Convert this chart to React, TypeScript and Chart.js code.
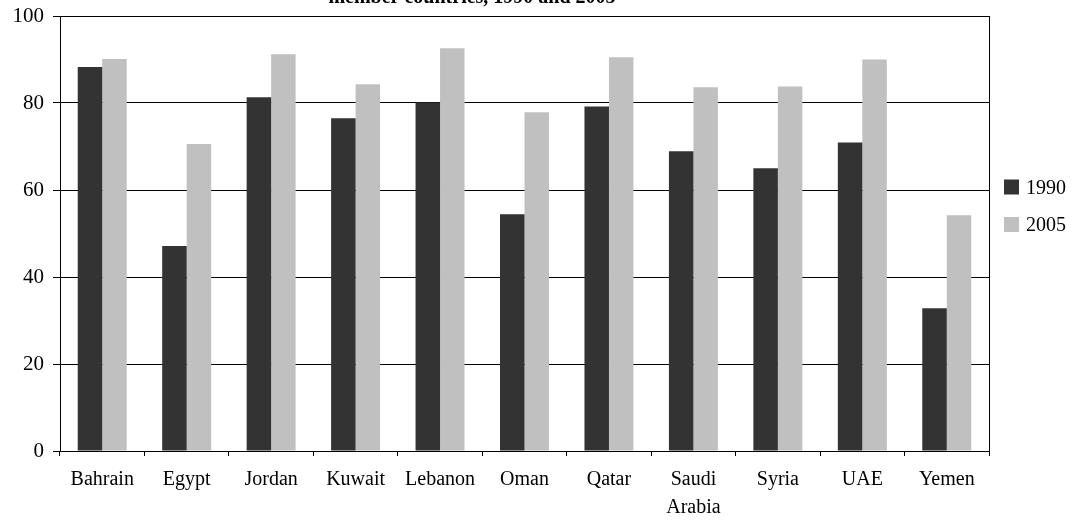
import { useEffect, useRef } from 'react';
import { Chart, registerables } from 'chart.js';

Chart.register(...registerables);

// Countries on the category axis (Saudi Arabia wraps onto two lines)
const countries: (string | string[])[] = [
  'Bahrain', 'Egypt', 'Jordan', 'Kuwait', 'Lebanon', 'Oman', 'Qatar',
  ['Saudi', 'Arabia'], 'Syria', 'UAE', 'Yemen',
];

// Series values per country
const values1990 = [88.3, 47.1, 81.3, 76.5, 80.1, 54.4, 79.2, 68.9, 65.0, 70.9, 32.8];
const values2005 = [90.1, 70.6, 91.2, 84.3, 92.6, 77.9, 90.5, 83.6, 83.8, 90.0, 54.2];

const seriesLabels = ['1990', '2005'];
const seriesColors = ['#333333', '#C0C0C0'];

const titleText = 'member countries, 1990 and 2005';

const yMin = 0;
const yMax = 100;
const yStep = 20;

const FONT = "'Liberation Serif', 'Times New Roman', serif";

// Draws the title line, the right edge of the plot frame and the legend
const decorations = {
  id: 'decorations',
  afterDraw(chart: Chart) {
    const { ctx, chartArea } = chart;
    ctx.save();

    // right edge of the plot frame
    ctx.strokeStyle = '#000';
    ctx.lineWidth = 1;
    ctx.beginPath();
    ctx.moveTo(Math.round(chartArea.right) + 0.5, chartArea.top);
    ctx.lineTo(Math.round(chartArea.right) + 0.5, chartArea.bottom);
    ctx.stroke();

    // title (its first line sits above the canvas edge)
    ctx.fillStyle = '#000';
    ctx.font = `bold 20px ${FONT}`;
    ctx.textAlign = 'center';
    ctx.textBaseline = 'alphabetic';
    ctx.fillText(titleText, 472, 3);

    // legend
    ctx.font = `20px ${FONT}`;
    ctx.textAlign = 'left';
    const lx = 1004;
    const ly = [179.5, 217];
    seriesLabels.forEach((label, i) => {
      ctx.fillStyle = seriesColors[i];
      ctx.fillRect(lx, ly[i], 15, 15);
      ctx.fillStyle = '#000';
      ctx.fillText(label, lx + 22, ly[i] + 14);
    });

    ctx.restore();
  },
};

export default function App() {
  const canvasRef = useRef<HTMLCanvasElement | null>(null);

  useEffect(() => {
    const canvas = canvasRef.current;
    if (!canvas) return;

    const chart = new Chart(canvas, {
      type: 'bar',
      data: {
        labels: countries,
        datasets: [
          {
            label: seriesLabels[0],
            data: values1990,
            backgroundColor: seriesColors[0],
            borderWidth: 0,
            categoryPercentage: 0.58,
            barPercentage: 1,
          },
          {
            label: seriesLabels[1],
            data: values2005,
            backgroundColor: seriesColors[1],
            borderWidth: 0,
            categoryPercentage: 0.58,
            barPercentage: 1,
          },
        ],
      },
      options: {
        responsive: false,
        animation: false,
        devicePixelRatio: 1,
        layout: { padding: { left: 0, top: 16, right: 85, bottom: 0 } },
        plugins: {
          legend: { display: false },
          title: { display: false },
          tooltip: { enabled: false },
        },
        scales: {
          x: {
            afterFit(scale: any) {
              scale.height = 70;
              scale.paddingLeft = 0;
              scale.paddingRight = 0;
            },
            grid: {
              offset: true,
              drawOnChartArea: false,
              drawTicks: true,
              tickLength: 5,
              color: '#000',
              lineWidth: 1,
            },
            border: { display: true, color: '#000', width: 1 },
            ticks: {
              color: '#000',
              font: { family: FONT, size: 20, lineHeight: 1.4 },
              padding: 10,
              maxRotation: 0,
              autoSkip: false,
            },
          },
          y: {
            min: yMin,
            max: yMax,
            afterFit(scale: any) {
              scale.width = 60;
              scale.paddingTop = 0;
              scale.paddingBottom = 0;
            },
            grid: {
              color: '#000',
              lineWidth: 1,
              drawTicks: true,
              tickLength: 7,
            },
            border: { display: true, color: '#000', width: 1 },
            ticks: {
              stepSize: yStep,
              color: '#000',
              font: { family: FONT, size: 21 },
              padding: 9,
            },
          },
        },
      },
      plugins: [decorations],
    });

    return () => chart.destroy();
  }, []);

  return (
    <div style={{ position: 'fixed', left: 0, top: 0, width: 1074, height: 521, background: '#fff' }}>
      <canvas ref={canvasRef} width={1074} height={521} style={{ display: 'block' }} />
    </div>
  );
}
